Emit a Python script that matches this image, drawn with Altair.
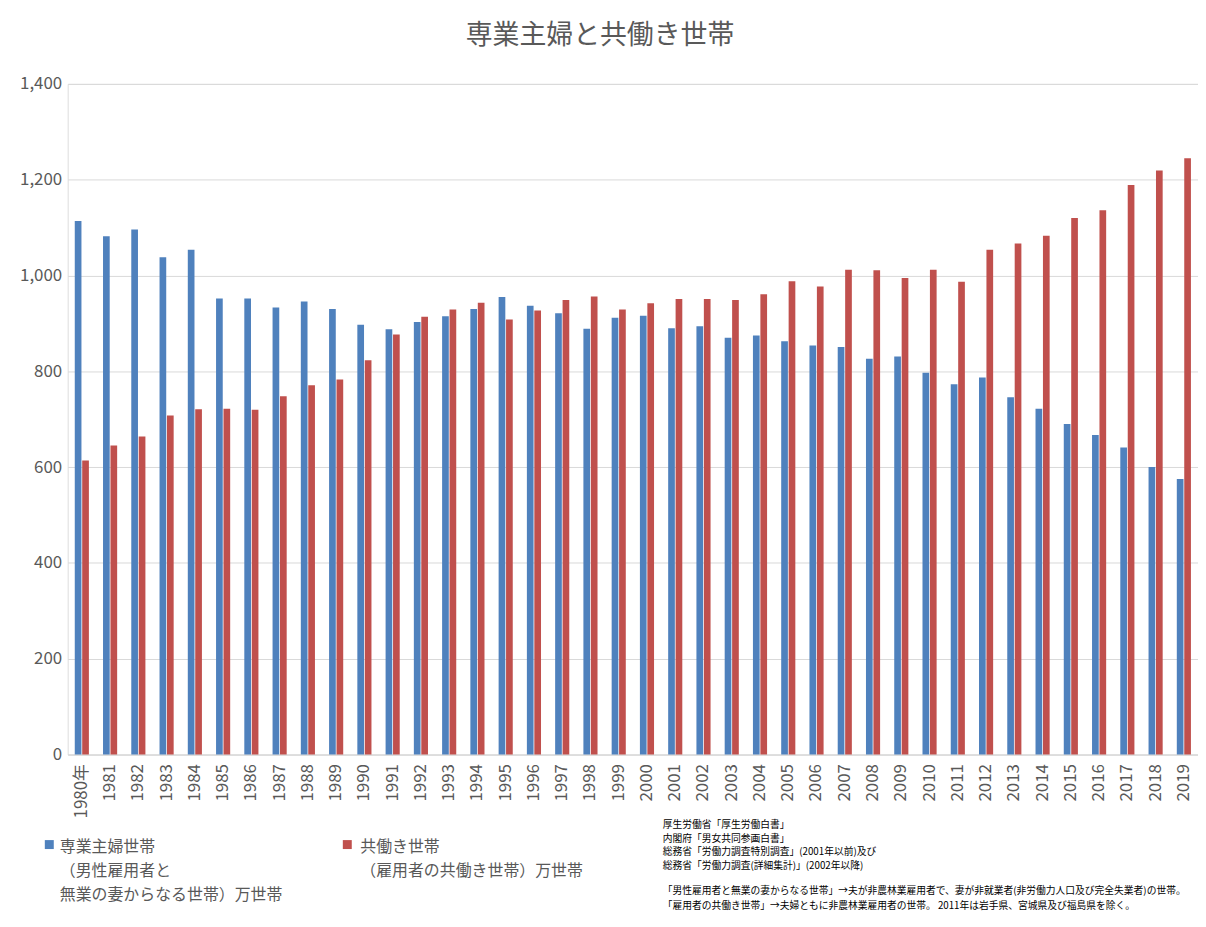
import altair as alt
import pandas as pd

# ---- data ----
years = ["1980年"] + [str(y) for y in range(1981, 2020)]
series_names = ["専業主婦世帯", "共働き世帯"]
housewife = [1114, 1082, 1096, 1038, 1054, 952, 952, 933, 946, 930,
             897, 888, 903, 915, 930, 955, 937, 921, 889, 912,
             916, 890, 894, 870, 875, 863, 854, 851, 826, 831,
             797, 773, 787, 746, 722, 690, 667, 641, 600, 575]
dual_income = [614, 645, 664, 708, 721, 722, 720, 748, 771, 783,
               823, 877, 914, 929, 943, 908, 927, 949, 956, 929,
               942, 951, 951, 949, 961, 988, 977, 1012, 1011, 995,
               1012, 987, 1054, 1067, 1083, 1120, 1136, 1189, 1219, 1245]
y_ticks = [0, 200, 400, 600, 800, 1000, 1200, 1400]

title_text = "専業主婦と共働き世帯"
legend_blue = "専業主婦世帯\n（男性雇用者と\n無業の妻からなる世帯）万世帯"
legend_red = "共働き世帯\n（雇用者の共働き世帯）万世帯"
notes_sources = ("厚生労働省「厚生労働白書」\n"
                 "内閣府「男女共同参画白書」\n"
                 "総務省「労働力調査特別調査」(2001年以前)及び\n"
                 "総務省「労働力調査(詳細集計)」(2002年以降)")
notes_defs = ("「男性雇用者と無業の妻からなる世帯」→夫が非農林業雇用者で、妻が非就業者(非労働力人口及び完全失業者)の世帯。\n"
              "「雇用者の共働き世帯」→夫婦ともに非農林業雇用者の世帯。 2011年は岩手県、宮城県及び福島県を除く。")

rows = []
for i, yr in enumerate(years):
    rows.append({"year": yr, "series": series_names[0], "value": housewife[i]})
    rows.append({"year": yr, "series": series_names[1], "value": dual_income[i]})
df = pd.DataFrame(rows)

FONT = "Noto Sans CJK JP"
GRAY = "#595959"
color_scale = alt.Scale(domain=series_names, range=["#4F81BD", "#C0504D"])

bars = alt.Chart(df).mark_bar().encode(
    x=alt.X("year:N", sort=years,
            scale=alt.Scale(paddingInner=0.5, paddingOuter=0.25),
            axis=alt.Axis(title=None, labelAngle=-90, labelFontSize=17,
                          labelColor=GRAY, labelFont=FONT, labelPadding=9,
                          ticks=False, domainColor="#d9d9d9", domainWidth=1,
                          grid=False)),
    xOffset=alt.XOffset("series:N", sort=series_names,
                        scale=alt.Scale(paddingInner=0.1, paddingOuter=0)),
    y=alt.Y("value:Q", scale=alt.Scale(domain=[0, 1400], nice=False),
            axis=alt.Axis(title=None, values=y_ticks, format=",d",
                          labelFontSize=17, labelColor=GRAY, labelFont=FONT,
                          labelPadding=6, ticks=False, domain=False,
                          gridColor="#d9d9d9", gridWidth=1)),
    color=alt.Color("series:N", scale=color_scale, legend=None),
)

leg_blue_df = pd.DataFrame({"series": [series_names[0]]})
leg_red_df = pd.DataFrame({"series": [series_names[1]]})

sq_blue = alt.Chart(leg_blue_df).mark_square(size=81, opacity=1).encode(
    x=alt.value(-18.5), y=alt.value(764.5),
    color=alt.Color("series:N", scale=color_scale, legend=None))
sq_red = alt.Chart(leg_red_df).mark_square(size=81, opacity=1).encode(
    x=alt.value(281), y=alt.value(764.5),
    color=alt.Color("series:N", scale=color_scale, legend=None))

txt_blue = alt.Chart(leg_blue_df).mark_text(
    align="left", baseline="top", fontSize=16, font=FONT, color=GRAY,
    lineBreak="\n", lineHeight=24).encode(
    x=alt.value(-8), y=alt.value(759), text=alt.value(legend_blue))
txt_red = alt.Chart(leg_red_df).mark_text(
    align="left", baseline="top", fontSize=16, font=FONT, color=GRAY,
    lineBreak="\n", lineHeight=24).encode(
    x=alt.value(294), y=alt.value(759), text=alt.value(legend_red))

notes1 = alt.Chart(leg_blue_df).mark_text(
    align="left", baseline="top", fontSize=9.8, font=FONT, color="#000000",
    lineBreak="\n", lineHeight=13.6).encode(
    x=alt.value(598), y=alt.value(740), text=alt.value(notes_sources))
notes2 = alt.Chart(leg_blue_df).mark_text(
    align="left", baseline="top", fontSize=9.8, font=FONT, color="#000000",
    lineBreak="\n", lineHeight=15).encode(
    x=alt.value(598), y=alt.value(806), text=alt.value(notes_defs))

chart = alt.layer(bars, sq_blue, sq_red, txt_blue, txt_red, notes1, notes2).properties(
    width=1136, height=674,
    title=alt.TitleParams(title_text, fontSize=27, font=FONT, color=GRAY,
                          fontWeight="normal", anchor="middle", dx=-33,
                          offset=25),
    autosize=alt.AutoSizeParams(type="none"),
    padding={"left": 60, "top": 74, "right": 0, "bottom": 160},
).configure_view(stroke=None).configure(background="white")

chart.save("out.html", embed_options={"renderer": "svg", "actions": False})
